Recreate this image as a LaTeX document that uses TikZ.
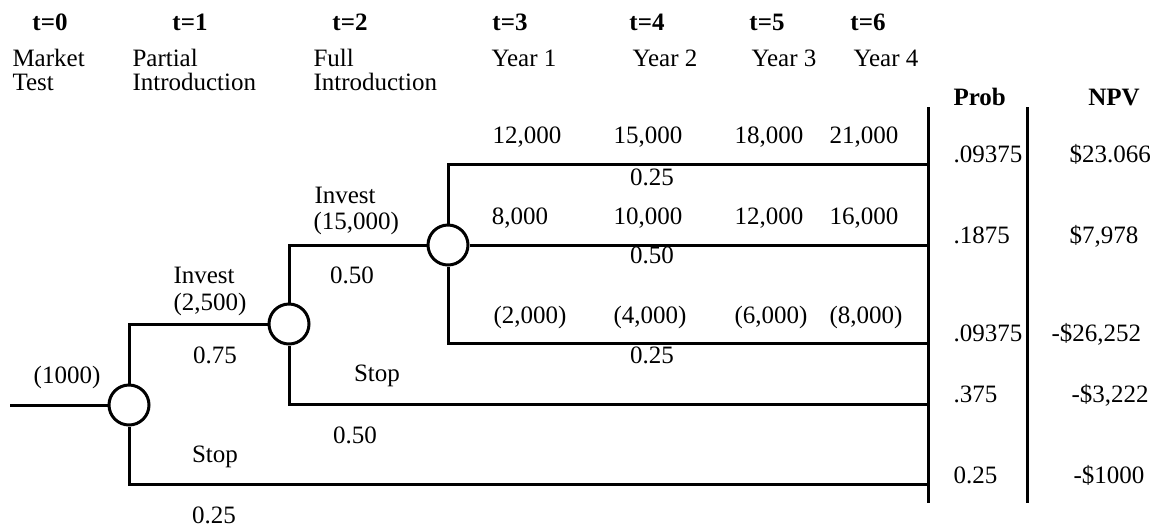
\documentclass[tikz,border=0pt]{standalone}
\usepackage{fontspec}
\setmainfont{Liberation Serif}
\begin{document}
\begin{tikzpicture}[x=0.5pt,y=-0.5pt,
  line width=1.5pt,
  dec/.style={draw,circle,minimum size=20pt,inner sep=0pt,fill=white},
  lab/.style={inner sep=0pt,anchor=base,font=\fontsize{12.5}{15}\selectfont},
  labl/.style={lab,anchor=base west},
  hdr/.style={lab,font=\fontsize{12.5}{15}\selectfont\bfseries},
  hdrl/.style={hdr,anchor=base west}]
\useasboundingbox (0,0) rectangle (1162,527);

% decision / chance nodes
\node[dec] (c1) at (129,405) {};
\node[dec] (c2) at (289,324) {};
\node[dec] (c3) at (448,245) {};

\coordinate (start) at (10,405);
\coordinate (e1) at (928,164);
\coordinate (e2) at (928,245);
\coordinate (e3) at (928,343);
\coordinate (e4) at (928,404);
\coordinate (e5) at (928,484);
\coordinate (vt1) at (928,107);
\coordinate (vb1) at (928,503);
\coordinate (vt2) at (1027,107);
\coordinate (vb2) at (1027,503);

\draw (start) -- (c1.west);
\draw (c1.north) |- (c2.west);
\draw (c1.south) |- (e5);
\draw (c2.north) |- (c3.west);
\draw (c2.south) |- (e4);
\draw (c3.north) |- (e1);
\draw (c3.east) -- (e2);
\draw (c3.south) |- (e3);
\draw (vt1) -- (vb1);
\draw (vt2) -- (vb2);

% headers
\node[hdr] (h0) at (50,30) {t=0};
\node[hdr] (h1) at (190,30) {t=1};
\node[hdr] (h2) at (350,30) {t=2};
\node[hdr] (h3) at (510,30) {t=3};
\node[hdr] (h4) at (647,30) {t=4};
\node[hdr] (h5) at (767,30) {t=5};
\node[hdr] (h6) at (868,30) {t=6};

\node[labl] (s0a) at (11,66) {Market};
\node[labl] (s0b) at (11,90) {Test};
\node[labl] (s1a) at (131,66) {Partial};
\node[labl] (s1b) at (131,90) {Introduction};
\node[labl] (s2a) at (312,66) {Full};
\node[labl] (s2b) at (312,90) {Introduction};
\node[labl] (y1) at (490,66) {Year 1};
\node[labl] (y2) at (631,66) {Year 2};
\node[labl] (y3) at (750,66) {Year 3};
\node[labl] (y4) at (852,66) {Year 4};

\node[hdrl] (prob) at (952,105) {Prob};
\node[hdr] (npv) at (1114,105) {NPV};

% probability column
\node[labl] (p1) at (952,162) {.09375};
\node[labl] (p2) at (952,243) {.1875};
\node[labl] (p3) at (952,341) {.09375};
\node[labl] (p4) at (952,402) {.375};
\node[labl] (p5) at (952,483) {0.25};

% NPV column
\node[labl] (n1) at (1068,162) {\$23.066};
\node[labl] (n2) at (1068,243) {\$7,978};
\node[labl] (n3) at (1050,341) {-\$26,252};
\node[labl] (n4) at (1070,402) {-\$3,222};
\node[labl] (n5) at (1072,483) {-\$1000};

% cash flows
\node[lab] (a1) at (527,143) {12,000};
\node[lab] (a2) at (648,143) {15,000};
\node[lab] (a3) at (769,143) {18,000};
\node[lab] (a4) at (864,143) {21,000};
\node[lab] (pa) at (652,185) {0.25};
\node[lab] (b1) at (520,224) {8,000};
\node[lab] (b2) at (648,224) {10,000};
\node[lab] (b3) at (769,224) {12,000};
\node[lab] (b4) at (864,224) {16,000};
\node[lab] (pb) at (652,263) {0.50};
\node[lab] (d1) at (530,323) {(2,000)};
\node[lab] (d2) at (650,323) {(4,000)};
\node[lab] (d3) at (771,323) {(6,000)};
\node[lab] (d4) at (866,323) {(8,000)};
\node[lab] (pd) at (652,363) {0.25};

% branch labels
\node[labl] (inv2a) at (313,203) {Invest};
\node[labl] (inv2b) at (312,229) {(15,000)};
\node[lab] (q2) at (352,283) {0.50};
\node[labl] (inv1a) at (172,283) {Invest};
\node[labl] (inv1b) at (172,310) {(2,500)};
\node[lab] (q1) at (215,363) {0.75};
\node[lab] (cost) at (67,383) {(1000)};
\node[lab] (stop2) at (377,381) {Stop};
\node[lab] (q3) at (355,443) {0.50};
\node[lab] (stop1) at (215,462) {Stop};
\node[lab] (q4) at (214,523) {0.25};
\end{tikzpicture}
\end{document}
